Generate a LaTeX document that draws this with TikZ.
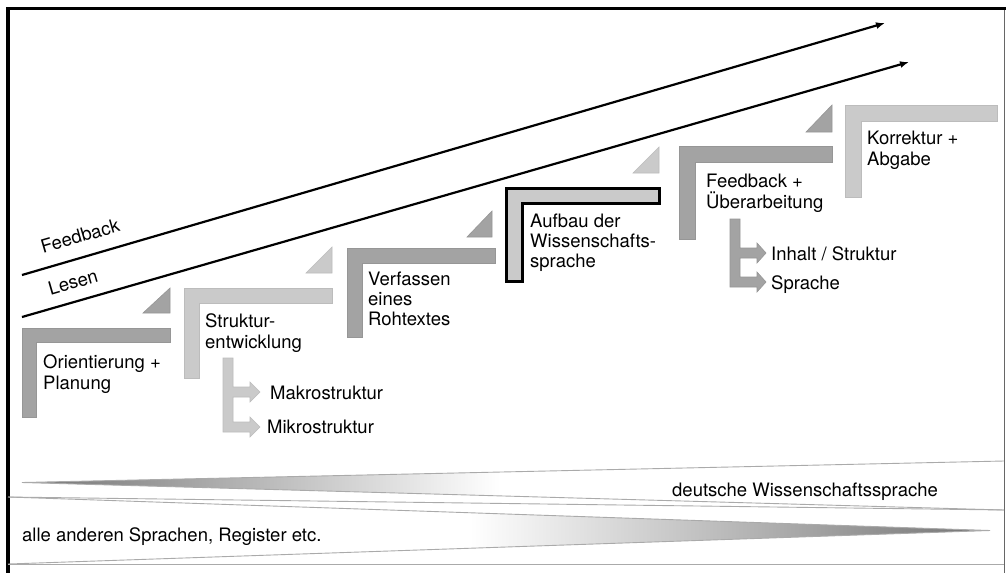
\documentclass[tikz,border=0pt]{standalone}
\usepackage{fontspec}
\setmainfont{TeX Gyre Heros}
\usetikzlibrary{arrows.meta}
\definecolor{dkg}{RGB}{163,163,163}
\definecolor{dkgE}{RGB}{150,150,150}
\definecolor{ltg}{RGB}{202,202,202}
\definecolor{ltgE}{RGB}{188,188,188}
\definecolor{bandc}{RGB}{170,170,170}
\newcommand\fsz{\fontsize{18.5}{21}\selectfont}
\begin{document}
\begin{tikzpicture}[x=1pt,y=-1pt,
 lbl/.style={inner sep=0pt,align=left,anchor=north west,font=\fsz},
 slbl/.style={inner sep=0pt,anchor=base west,font=\fsz},
 rlbl/.style={inner sep=0pt,font=\fsz,rotate=16.2},
 darkstep/.style={fill=dkg,draw=dkgE,line width=0.6pt},
 lightstep/.style={fill=ltg,draw=ltgE,line width=0.6pt},
 arrowline/.style={line width=2.2pt,-{Latex[length=9pt,width=7pt]}},
 bandline/.style={draw=bandc,line width=0.9pt}]

\useasboundingbox (0,0) rectangle (1006,573);
\fill[white] (0,0) rectangle (1006,573);

% frame
\draw[black!60, line width=1.5pt] (1004.5,8) -- (1004.5,573);
\draw[line width=3pt] (8,8.5) -- (1005.5,8.5);
\draw[line width=3.5pt] (8,7) -- (8,573);

% bottom wedges
\begin{scope}
 \clip (22,482.5) -- (1004,461) -- (1004,510) -- cycle;
 \shade[left color=black!55, right color=white] (22,455) rectangle (500,515);
\end{scope}
\draw[bandline] (1004,461) -- (22,482.5) -- (1004,510);
\draw[bandline] (8,497) -- (1004,510);
\begin{scope}
 \clip (8,497) -- (990,530.5) -- (8,564) -- cycle;
 \shade[left color=white, right color=black!55] (470,495) rectangle (990,566);
\end{scope}
\draw[bandline] (8,497) -- (990,530.5) -- (8,564);
\draw[bandline] (8,564) -- (1004,564);

\node[slbl] (dws) at (672,496) {deutsche Wissenschaftssprache};
\node[slbl] (aas) at (22,541) {alle anderen Sprachen, Register etc.};

% feedback / lesen arrows
\coordinate (fbS) at (22,275);
\coordinate (fbE) at (885,23);
\coordinate (leS) at (22,317);
\coordinate (leE) at (909,62);
\draw[arrowline] (fbS) -- (fbE);
\draw[arrowline] (leS) -- (leE);
\node[rlbl] (fbl) at (80,236) {Feedback};
\node[rlbl] (lel) at (73,282) {Lesen};

% step 1
\fill[darkstep] (22,328) -- (170,328) -- (170,342) -- (36,342) -- (36,417) -- (22,417) -- cycle;
\fill[darkstep] (143,313) -- (170,313) -- (170,288) -- cycle;
\node[lbl] (s1) at (43,354) {Orientierung +\\Planung};

% step 2
\fill[lightstep] (184,288) -- (332,288) -- (332,303) -- (199,303) -- (199,378) -- (184,378) -- cycle;
\fill[lightstep] (306,273) -- (332,273) -- (332,247) -- cycle;
\node[lbl] (s2) at (205,313) {Struktur-\\entwicklung};
\fill[lightstep] (223,358) -- (233,358) -- (233,387) -- (250,387) -- (250,382) -- (260,392)
  -- (250,402) -- (250,397) -- (233,397) -- (233,422) -- (250,422) -- (250,417) -- (260,427)
  -- (250,437) -- (250,432) -- (223,432) -- cycle;
\node[slbl] (makro) at (270,399.5) {Makrostruktur};
\node[slbl] (mikro) at (267,433) {Mikrostruktur};

% step 3
\fill[darkstep] (347,248) -- (495,248) -- (495,263) -- (362,263) -- (362,337) -- (347,337) -- cycle;
\fill[darkstep] (467,237) -- (492,237) -- (492,211) -- cycle;
\node[lbl,font=\fontsize{18.5}{20}\selectfont] (s3) at (368,272) {Verfassen\\eines\\Rohtextes};

% step 4
\filldraw[fill=ltg,draw=black,line width=3pt] (506.5,188.5) -- (659.5,188.5) -- (659.5,203.5)
  -- (522.5,203.5) -- (522.5,281.5) -- (506.5,281.5) -- cycle;
\fill[lightstep] (633,173) -- (659,173) -- (659,147) -- cycle;
\node[lbl,font=\fontsize{18.5}{20}\selectfont] (s4) at (530,214) {Aufbau der\\Wissenschafts-\\sprache};

% step 5
\fill[darkstep] (679,146) -- (832,146) -- (832,162) -- (695,162) -- (695,239) -- (679,239) -- cycle;
\fill[darkstep] (806,132) -- (832,132) -- (832,105) -- cycle;
\node[lbl] (s5) at (706,174) {Feedback +\\Überarbeitung};
\fill[darkstep] (730,219) -- (740,219) -- (740,248) -- (757,248) -- (757,243) -- (766,253)
  -- (757,263) -- (757,258) -- (740,258) -- (740,277) -- (757,277) -- (757,272) -- (766,282)
  -- (757,292) -- (757,287) -- (730,287) -- cycle;
\node[slbl] (inh) at (771,260) {Inhalt / Struktur};
\node[slbl] (spr) at (771,289) {Sprache};

% step 6
\fill[lightstep] (845,105) -- (997,105) -- (997,121) -- (861,121) -- (861,197) -- (845,197) -- cycle;
\node[lbl] (s6) at (867,131) {Korrektur +\\Abgabe};
\end{tikzpicture}
\end{document}
